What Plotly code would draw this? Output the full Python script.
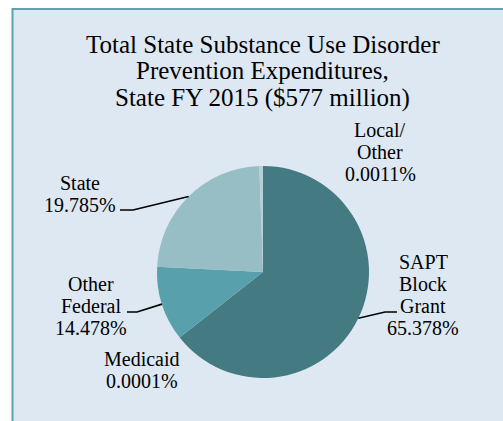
import math
import plotly.graph_objects as go

# ---- data ----
categories = ["SAPT Block Grant", "Medicaid", "Other Federal", "State", "Local/Other"]
# slice sizes as drawn in the picture (percent of total)
slice_values = [64.4, 0.0001, 11.4, 23.65, 0.55]
# label texts printed on the chart
label_lines = [
    ["SAPT", "Block", "Grant", "65.378%"],
    ["Medicaid", "0.0001%"],
    ["Other", "Federal", "14.478%"],
    ["State", "19.785%"],
    ["Local/", "Other", "0.0011%"],
]
title_lines = [
    "Total State Substance Use Disorder",
    "Prevention Expenditures,",
    "State FY 2015 ($577 million)",
]
colors = ["#447A81", "#447A81", "#58A1AC", "#97BEC5", "#B5CFD5"]

# ---- layout constants (pixels) ----
W, H = 503, 421
CX, CY, R = 263.0, 272.0, 106.0
FONT = "Liberation Serif"


def px(x):
    return x / W


def py(y):
    return 1 - y / H


fig = go.Figure()
fig.add_trace(go.Pie(
    labels=categories,
    values=slice_values,
    sort=False,
    direction="clockwise",
    rotation=0,
    textinfo="none",
    hoverinfo="label+percent",
    marker=dict(colors=colors, line=dict(width=0)),
    showlegend=False,
    domain=dict(x=[px(CX - R), px(CX + R)], y=[py(CY + R), py(CY - R)]),
))

shapes = [dict(type="rect", xref="paper", yref="paper",
               x0=px(12.5), y0=py(9), x1=px(W + 20), y1=py(H + 20),
               fillcolor="#DEE8F3", line=dict(color="#5BA3B0", width=2),
               layer="below")]

# label placement (center x, first line center y) and line spacing
label_pos = {
    "SAPT Block Grant": (423, 262),
    "Medicaid": (142, 359),
    "Other Federal": (91, 284),
    "State": (80, 183),
    "Local/Other": (380, 130),
}
LS = 22
annotations = []
for cat, lines in zip(categories, label_lines):
    x0, y0 = label_pos[cat]
    for i, t in enumerate(lines):
        annotations.append(dict(
            x=px(x0), y=py(y0 + i * LS), xref="paper", yref="paper",
            text=t, showarrow=False, xanchor="center", yanchor="middle",
            font=dict(family=FONT, size=20, color="#000000")))

for i, t in enumerate(title_lines):
    annotations.append(dict(
        x=px(262.5), y=py(44 + i * 26.8), xref="paper", yref="paper",
        text=t, showarrow=False, xanchor="center", yanchor="middle",
        font=dict(family=FONT, size=25, color="#000000")))

# leader lines from slice mid-angles to the labels
total = sum(slice_values)
cum = 0.0
mids = {}
for cat, v in zip(categories, slice_values):
    mids[cat] = 360.0 * (cum + v / 2) / total
    cum += v

leaders = {
    "SAPT Block Grant": [(385, 312), (397, 312)],
    "State": [(133, 210), (120, 210)],
    "Other Federal": [(137, 312), (127, 312)],
}
for cat, pts in leaders.items():
    a = math.radians(mids[cat])
    ex, ey = CX + R * math.sin(a), CY - R * math.cos(a)
    path_pts = [(ex, ey)] + pts
    path = "M " + " L ".join(f"{px(x):.5f},{py(y):.5f}" for x, y in path_pts)
    shapes.append(dict(type="path", xref="paper", yref="paper", path=path,
                       line=dict(color="black", width=1.6)))

fig.update_layout(
    width=W, height=H,
    margin=dict(l=0, r=0, t=0, b=0),
    paper_bgcolor="white",
    plot_bgcolor="white",
    shapes=shapes,
    annotations=annotations,
)

fig.write_html("out.html",
               config={"displayModeBar": False},
               post_script="document.body.style.margin='0';document.body.style.overflow='hidden';")
